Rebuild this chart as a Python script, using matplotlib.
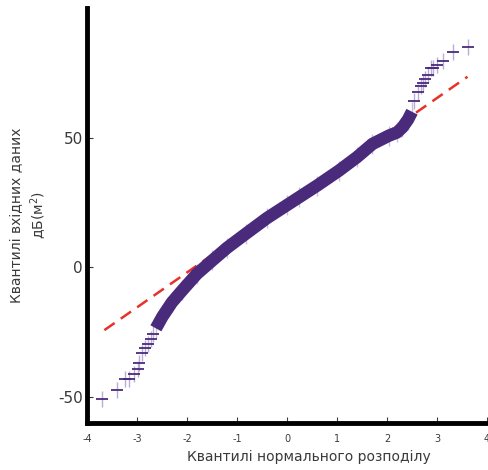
import matplotlib
matplotlib.use("Agg")
import matplotlib.pyplot as plt

# Main body of the sample quantiles (normal quantile, data quantile)
body_x = [-2.62, -2.49, -2.30, -2.09, -1.80, -1.49, -1.20, -0.82, -0.40, 0.00, 0.24,
          0.60, 1.04, 1.40, 1.71, 2.04, 2.20, 2.31, 2.42, 2.50]
body_y = [-23.5, -19.0, -13.5, -8.8, -2.5, 2.7, 7.5, 13.0, 19.0, 24.0, 27.0,
          31.5, 37.3, 42.5, 47.6, 50.8, 52.0, 54.0, 57.0, 60.0]

# Sparse tail points
tail_x = [-3.69, -3.39, -3.24, -3.16, -3.05, -2.98, -2.95, -2.89, -2.84, -2.78, -2.72, -2.67,
          2.55, 2.62, 2.68, 2.72, 2.77, 2.82, 2.87, 2.92, 3.00, 3.11, 3.32, 3.61]
tail_y = [-50.8, -47.3, -43.0, -43.0, -41.0, -39.0, -37.0, -33.0, -31.0, -29.5, -27.5, -25.5,
          64.0, 67.5, 70.0, 71.0, 72.5, 74.0, 76.8, 76.8, 78.0, 79.4, 83.0, 85.1]

# Reference line endpoints
ref_x = [-3.65, 3.61]
ref_y = [-24.2, 73.5]

xticks = [-4, -3, -2, -1, 0, 1, 2, 3, 4]
yticks = [-50, 0, 50]

purple = "#4a2a7a"
light_purple = "#a597c8"
gray = "#3a3a3a"

fig = plt.figure(figsize=(4.88, 4.70), dpi=100)
ax = fig.add_axes([0.178, 0.1, 0.82, 0.883])

ax.plot(ref_x, ref_y, "--", color="#e8312a", lw=1.8, dashes=(5, 3), zorder=1)
ax.plot(body_x, body_y, color=purple, lw=9, solid_capstyle="butt", zorder=3)
ax.plot(body_x, body_y, "|", color=light_purple, ms=14, mew=1.0, alpha=0.6, zorder=2)
ax.plot(tail_x, tail_y, "|", color=light_purple, ms=11, mew=1.0, alpha=0.8, zorder=2)
ax.plot(tail_x, tail_y, "_", color=purple, ms=8, mew=1.3, zorder=3)

ax.set_xlim(-4, 4)
ax.set_ylim(-60, 100)
ax.set_xticks(xticks)
ax.set_yticks(yticks)
ax.set_xticklabels([str(t) for t in xticks], fontsize=7, color=gray)
ax.set_yticklabels([str(t) for t in yticks], fontsize=11, color=gray)
ax.tick_params(axis="both", direction="in", length=4, width=0.8, color=gray)
ax.tick_params(axis="x", pad=8)
ax.tick_params(axis="y", pad=3)

for s in ["top", "right"]:
    ax.spines[s].set_visible(False)
for s in ["left", "bottom"]:
    ax.spines[s].set_linewidth(3.5)
    ax.spines[s].set_color("black")

ax.set_xlabel("Квантилі нормального розподілу", fontsize=10, color=gray)
ax.xaxis.set_label_coords(0.555, -0.066)
ax.set_ylabel("Квантилі вхідних даних\nдБ(м$^2$)", fontsize=10, color=gray, linespacing=1.3)
ax.yaxis.set_label_coords(-0.095, 0.5)

fig.savefig("out.png", dpi=100)
